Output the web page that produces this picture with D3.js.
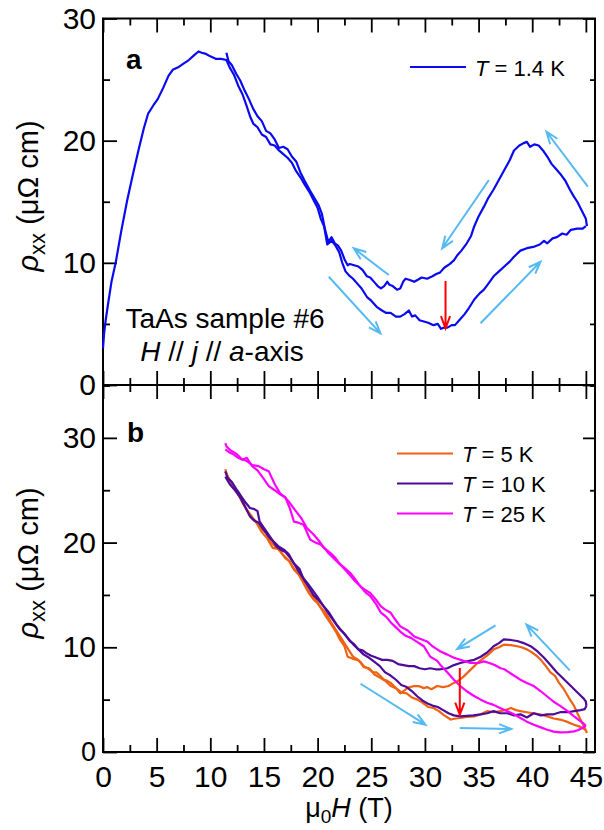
<!DOCTYPE html>
<html>
<head>
<meta charset="utf-8">
<script src="https://cdn.jsdelivr.net/npm/d3@7"></script>
<style>
  body { margin: 0; background: #fff; }
  svg { font-family: Arial, "Liberation Sans", sans-serif; }
</style>
</head>
<body>
<div id="plot"></div>
<script>
// ---- data: [mu0H (T), rho_xx (uOhm cm)] ----

// panel a, T = 1.4 K
var up14 = [[0.0,3.0],[0.1,4.2],[0.25,5.3],[0.5,6.8],[0.8,8.5],[1.2,10.1],[1.7,12.6],[2.25,15.1],[2.8,17.3],[3.3,19.2],
  [3.8,21.0],[4.2,22.2],[4.7,22.9],[5.1,23.4],[5.6,24.3],[6.1,25.3],[6.5,25.8],[7.0,26.0],[7.5,26.3],[8.0,26.6],
  [8.5,27.0],[8.9,27.3],[9.2,27.2],[9.6,27.1],[10.0,26.9],[10.5,26.7],[11.0,26.7],[11.5,26.6],[11.8,26.0],[12.2,25.4],
  [12.6,24.5],[13.0,23.8],[13.4,22.8],[13.7,22.0],[14.0,21.4],[14.4,21.1],[14.8,20.5],[15.2,20.3],[15.6,19.7],[16.0,19.6],
  [16.4,19.2],[16.8,18.9],[17.2,18.6],[17.6,18.2],[18.0,17.5],[18.4,17.0],[18.8,16.4],[19.3,15.7],[19.7,15.0],[20.0,14.5],
  [20.3,13.6],[20.6,13.0],[20.9,11.5],[21.3,11.8],[21.6,11.5],[22.0,10.9],[22.3,10.0],[22.6,9.3],[22.9,9.0],[23.3,8.7],
  [23.7,8.3],[24.1,7.9],[24.6,7.2],[25.0,6.9],[25.5,6.4],[26.0,6.1],[26.4,5.9],[26.8,5.9],[27.3,5.6],[27.7,5.6],
  [28.1,5.8],[28.5,6.1],[28.8,5.6],[29.1,5.7],[29.5,5.3],[29.9,5.2],[30.3,5.1],[30.8,4.9],[31.2,5.0],[31.5,4.6],
  [31.8,4.7],[32.1,4.7],[32.5,4.9],[32.8,4.9],[33.3,5.4],[33.7,5.8],[34.1,6.3],[34.6,7.0],[35.1,7.5],[35.5,7.8],
  [36.0,8.4],[36.4,8.9],[36.9,9.3],[37.4,9.7],[37.9,10.1],[38.3,10.5],[38.9,11.0],[39.5,11.2],[40.1,11.3],[40.7,11.5],
  [41.1,11.8],[41.4,11.6],[41.9,12.0],[42.3,12.1],[42.8,12.4],[43.2,12.3],[43.6,12.7],[44.2,12.8],[44.7,12.8],[45.0,13.0]];

var down14 = [[45.1,13.0],[45.0,13.6],[44.6,14.3],[44.2,15.0],[43.9,15.4],[43.5,16.0],[43.1,16.7],[42.6,17.3],[42.2,17.7],[41.8,18.1],
  [41.4,18.7],[41.0,19.2],[40.6,19.6],[40.2,19.7],[39.8,19.5],[39.5,19.9],[39.2,19.8],[38.8,19.6],[38.3,19.2],[37.9,18.4],
  [37.4,17.6],[36.9,16.8],[36.4,16.0],[35.9,15.3],[35.5,14.6],[35.0,13.8],[34.6,13.0],[34.3,12.2],[33.9,11.6],[33.4,11.0],
  [33.0,10.6],[32.7,10.2],[32.3,9.9],[31.8,9.6],[31.4,9.2],[31.1,9.1],[30.7,8.9],[30.2,8.7],[29.7,8.8],[29.3,8.6],
  [29.0,8.45],[28.6,8.6],[28.2,8.7],[28.0,8.5],[27.7,7.9],[27.4,7.8],[27.0,8.1],[26.7,8.2],[26.5,8.45],[26.2,8.1],
  [25.9,7.9],[25.6,8.1],[25.3,8.4],[24.9,8.8],[24.6,8.9],[24.2,9.4],[23.8,9.7],[23.4,9.8],[23.0,9.9],[22.8,9.8],
  [22.5,10.3],[22.2,11.0],[21.9,11.4],[21.6,11.6],[21.3,12.1],[21.0,11.7],[20.7,12.7],[20.4,14.0],[20.1,14.7],[19.7,15.3],
  [19.3,15.9],[18.8,16.7],[18.4,17.4],[18.0,18.3],[17.6,18.7],[17.2,19.3],[16.8,19.5],[16.4,19.4],[16.0,20.1],[15.6,20.6],
  [15.2,20.8],[14.8,21.6],[14.4,22.0],[14.0,22.6],[13.6,23.4],[13.2,24.1],[12.8,24.9],[12.4,25.5],[12.0,26.2],[11.7,26.5],
  [11.5,27.2]];

// panel b, T = 5 K
var up5 = [[11.4,26.8],[11.8,26.0],[12.3,25.1],[12.8,24.4],[13.3,23.3],[13.8,22.4],[14.3,21.9],[14.8,21.0],[15.3,20.4],[15.8,19.5],
  [16.3,19.4],[16.8,18.8],[17.3,18.3],[17.8,17.4],[18.3,16.9],[18.8,16.0],[19.3,15.1],[19.8,14.6],[20.3,13.8],[20.8,13.2],
  [21.3,12.3],[21.8,11.5],[22.3,10.7],[22.8,9.9],[23.3,9.1],[23.8,8.8],[24.3,8.1],[24.8,8.0],[25.3,7.4],[25.8,7.1],
  [26.3,6.8],[26.8,6.3],[27.3,6.1],[27.8,5.7],[28.3,5.6],[28.8,5.2],[29.3,5.0],[29.8,4.7],[30.3,4.3],[30.8,4.2],
  [31.3,3.9],[31.8,3.5],[32.4,3.1],[32.9,3.2],[33.3,3.25],[33.9,3.35],[34.6,3.4],[35.2,3.6],[35.8,3.9],[36.4,3.8],
  [37.0,3.9],[37.5,4.0],[38.0,4.2],[38.5,4.0],[38.9,3.9],[39.5,3.8],[40.1,3.7],[40.7,3.6],[41.4,3.4],[42.0,3.2],
  [42.6,3.1],[43.2,2.9],[43.9,2.6],[44.5,2.4],[45.0,2.1]];

var down5 = [[45.1,1.8],[44.9,2.3],[44.65,2.8],[44.3,3.5],[43.9,4.4],[43.4,5.2],[42.95,6.0],[42.5,6.6],[42.1,7.3],[41.7,7.6],
  [41.2,8.3],[40.8,8.8],[40.5,9.1],[40.0,9.5],[39.5,9.8],[39.0,10.0],[38.6,10.1],[38.0,10.2],[37.35,10.25],[36.9,10.0],
  [36.4,9.8],[35.9,9.3],[35.5,9.0],[35.0,8.6],[34.6,8.2],[34.1,7.7],[33.6,7.2],[33.1,6.8],[32.7,6.6],[32.2,6.3],
  [31.7,6.2],[31.15,6.3],[30.6,6.0],[30.2,6.2],[29.9,6.1],[29.4,6.3],[29.0,6.3],[28.6,6.2],[28.35,6.1],[28.0,5.8],
  [27.7,5.6],[27.3,6.1],[26.8,6.6],[26.5,6.8],[26.2,6.9],[25.8,7.3],[25.5,7.6],[25.2,7.6],[24.8,7.9],[24.3,8.2],
  [24.0,8.6],[23.7,8.8],[23.3,8.9],[22.8,9.1],[22.5,10.1],[22.1,10.7],[21.7,11.5],[21.2,12.3],[20.8,12.9],[20.4,13.6],
  [20.0,14.2],[19.6,14.6],[19.3,15.0],[19.0,15.5],[18.6,16.3],[18.2,17.0],[17.8,17.5],[17.4,18.2],[17.0,18.5],[16.5,19.2],
  [16.0,19.7],[15.6,20.1],[15.2,20.9],[14.8,21.3],[14.4,21.8],[14.0,22.3],[13.5,23.0],[13.0,23.8],[12.5,24.8],[12.0,25.6],
  [11.6,26.3],[11.4,27.0]];

// panel b, T = 10 K
var up10 = [[11.4,26.3],[11.8,25.6],[12.3,25.0],[12.8,24.3],[13.3,23.3],[13.7,22.5],[14.1,22.1],[14.5,21.9],[15.0,21.2],[15.5,20.5],
  [15.9,20.1],[16.4,19.6],[16.9,19.3],[17.3,18.9],[17.8,18.0],[18.3,17.5],[18.7,16.5],[19.2,15.7],[19.6,15.0],[20.0,14.6],
  [20.5,14.0],[20.9,13.4],[21.3,12.8],[21.8,12.1],[22.3,11.5],[22.8,10.9],[23.3,10.3],[23.8,9.8],[24.3,9.3],[24.8,9.0],
  [25.3,8.6],[25.8,8.2],[26.3,7.6],[26.8,7.3],[27.3,6.9],[27.8,6.4],[28.3,6.2],[28.8,5.8],[29.3,5.3],[29.8,4.9],
  [30.3,4.6],[30.8,4.4],[31.2,4.3],[31.7,4.0],[32.2,3.7],[32.7,3.5],[33.3,3.4],[33.9,3.45],[34.5,3.5],[35.2,3.6],
  [35.8,3.7],[36.4,3.9],[37.0,3.7],[37.7,3.7],[38.3,3.5],[38.9,3.6],[39.5,3.3],[40.15,3.7],[40.8,3.5],[41.4,3.6],
  [42.0,3.6],[42.6,3.8],[43.3,3.8],[43.9,3.9],[44.5,4.0],[44.9,4.1],[45.05,4.4]];

var down10 = [[45.05,4.4],[45.0,4.8],[44.8,5.1],[44.5,5.4],[44.0,5.9],[43.6,6.3],[43.0,6.9],[42.6,7.3],[42.3,7.6],[41.7,8.3],
  [41.1,9.0],[40.5,9.6],[39.85,10.1],[39.2,10.4],[38.6,10.6],[38.0,10.7],[37.35,10.75],[36.9,10.4],[36.4,10.1],[35.8,9.5],
  [35.2,9.1],[34.6,8.8],[33.9,8.65],[33.3,8.5],[32.7,8.3],[32.1,8.0],[31.45,7.9],[31.0,7.9],[30.5,8.0],[30.0,7.9],
  [29.5,8.0],[29.0,8.2],[28.5,8.2],[28.0,8.3],[27.5,8.4],[27.0,8.7],[26.5,8.8],[26.0,8.8],[25.5,9.0],[25.0,9.2],
  [24.6,9.4],[24.2,9.7],[23.8,9.8],[23.4,10.3],[23.0,10.6],[22.5,11.3],[22.0,11.8],[21.5,12.6],[21.0,13.4],[20.5,14.0],
  [20.0,14.8],[19.5,15.5],[19.0,16.2],[18.6,16.7],[18.2,17.3],[17.8,18.0],[17.4,18.6],[17.0,19.1],[16.6,19.3],[16.2,19.6],
  [15.8,20.2],[15.4,20.8],[15.0,21.4],[14.6,22.0],[14.4,23.0],[14.1,23.2],[13.7,23.3],[13.3,23.8],[12.9,24.4],[12.5,25.0],
  [12.0,25.8],[11.6,26.2],[11.4,26.8]];

// panel b, T = 25 K
var up25 = [[11.4,28.9],[11.8,28.6],[12.2,28.4],[12.6,28.1],[13.0,27.9],[13.4,28.1],[13.9,27.3],[14.4,26.9],[14.9,26.2],[15.45,25.4],
  [16.0,25.0],[16.5,24.6],[17.0,24.3],[17.4,23.3],[17.8,22.0],[18.2,21.9],[18.7,21.7],[19.0,21.0],[19.3,20.3],[19.8,20.0],
  [20.3,19.8],[20.7,19.4],[21.0,19.0],[21.4,18.6],[21.8,18.2],[22.4,17.6],[23.0,16.9],[23.5,16.3],[24.0,15.8],[24.5,15.2],
  [24.9,14.9],[25.4,14.2],[25.9,13.3],[26.4,12.9],[26.8,12.4],[27.3,11.9],[27.7,11.5],[28.2,11.1],[28.7,10.9],[29.3,10.5],
  [29.9,10.1],[30.2,9.6],[30.5,9.1],[31.15,8.7],[31.45,8.3],[32.1,7.6],[32.7,6.9],[33.3,6.3],[33.9,5.8],[34.5,5.4],
  [35.2,5.0],[35.8,4.7],[36.4,4.5],[37.0,4.2],[37.7,3.9],[38.3,3.6],[38.9,3.25],[39.5,2.9],[40.15,2.6],[40.8,2.35],
  [41.4,2.13],[42.0,1.95],[42.6,1.87],[43.3,1.9],[43.9,1.97],[44.3,2.1],[44.65,2.3],[45.0,2.5]];

var down25 = [[45.0,2.5],[44.8,2.7],[44.3,3.1],[43.9,3.4],[43.3,3.9],[42.6,4.4],[42.0,4.8],[41.4,5.3],[40.8,5.8],[40.15,6.3],
  [39.5,6.6],[38.9,6.9],[38.6,7.1],[38.0,7.5],[37.4,7.9],[37.05,8.0],[36.5,8.3],[36.0,8.5],[35.5,8.65],[35.0,8.5],
  [34.6,8.5],[34.25,8.5],[33.6,8.7],[33.0,8.9],[32.7,9.0],[32.1,9.3],[31.45,9.6],[31.15,9.8],[30.7,10.1],[30.2,10.56],
  [29.6,10.8],[29.0,11.04],[28.4,11.6],[27.7,12.0],[27.2,12.7],[26.8,13.3],[26.3,13.6],[25.9,13.9],[25.4,14.6],[24.9,15.2],
  [24.4,15.5],[24.0,15.8],[23.5,16.5],[23.05,17.1],[22.5,17.6],[22.0,18.05],[21.6,18.6],[21.2,19.0],[20.6,19.5],[20.1,20.2],
  [19.6,20.8],[19.0,21.4],[18.5,22.3],[17.9,23.1],[17.4,23.8],[16.9,24.4],[16.5,24.7],[16.0,25.6],[15.45,26.8],[15.0,27.0],
  [14.5,27.3],[13.9,27.4],[13.4,27.8],[12.9,28.0],[12.4,28.5],[11.9,28.8],[11.5,29.2],[11.4,29.5]];

// sweep-direction arrows [[H1, rho1], [H2, rho2]] (head at the second point)
var arrowsA = [[[21.04,8.86],[25.86,4.23]], [[26.63,9.0],[23.37,11.19]], [[35.96,16.78],[31.61,11.19]],
               [[45.18,16.23],[41.33,20.73]], [[35.18,5.05],[40.77,10.09]]];
var redA = [[31.92,8.51],[31.92,4.64]];
var arrowsB = [[[43.5,7.79],[39.47,12.16]], [[36.58,12.09],[33.01,9.84]], [[24.0,6.52],[30.05,2.61]],
               [[33.25,2.29],[38.04,2.2]]];
var redB = [[33.25,8.02],[33.25,3.56]];

// ticks
var xMajor = [0, 5, 10, 15, 20, 25, 30, 35, 40, 45];
var xMinor = [2.5, 7.5, 12.5, 17.5, 22.5, 27.5, 32.5, 37.5, 42.5];
var yMajorA = [0, 10, 20, 30], yMinorA = [5, 15, 25];
var yMajorB = [0, 10, 20, 30], yMinorB = [5, 15, 25, 35];

var legendB = [{t: '5 K', c: '#ee6212'}, {t: '10 K', c: '#4d0c98'}, {t: '25 K', c: '#ff00ff'}];

// ---- drawing ----
var width = 604, height = 830;
var svg = d3.select('#plot').append('svg').attr('width', width).attr('height', height);

var x = d3.scaleLinear().domain([0, 45.85]).range([103, 595]);
var yA = d3.scaleLinear().domain([0, 30]).range([385, 18.5]);
var yB = d3.scaleLinear().domain([0, 35.05]).range([752, 385]);

var arrowBlue = '#55b9f2';

function axes(y, yMajor, yMinor, xLabels) {
    var y0 = y.range()[0], y1 = y.range()[1];
    var x0 = x.range()[0], x1 = x.range()[1];
    var g = svg.append('g');
    var sets = [[14, xMajor, yMajor, true], [7, xMinor, yMinor, false]];
    sets.forEach(function(s) {
        var len = s[0];
        g.append('g').attr('transform', 'translate(0,' + y0 + ')')
            .call(d3.axisBottom(x).tickValues(s[1]).tickSize(-len).tickPadding(14)
                .tickFormat(xLabels && s[3] ? d3.format('d') : ''));
        g.append('g').attr('transform', 'translate(0,' + y1 + ')')
            .call(d3.axisTop(x).tickValues(s[1]).tickSize(-len).tickFormat(''));
        g.append('g').attr('transform', 'translate(' + x0 + ',0)')
            .call(d3.axisLeft(y).tickValues(s[2]).tickSize(-len).tickPadding(7)
                .tickFormat(s[3] ? d3.format('d') : ''));
        g.append('g').attr('transform', 'translate(' + x1 + ',0)')
            .call(d3.axisRight(y).tickValues(s[2]).tickSize(-(len - 2)).tickFormat(''));
    });
    g.selectAll('.domain').remove();
    g.selectAll('.tick line').attr('stroke', '#000').attr('stroke-width', 1.8);
    g.selectAll('text').attr('fill', '#000').attr('font-family', 'Arial, "Liberation Sans", sans-serif');
    g.selectAll('g').attr('font-size', 30);
    g.selectAll('g').filter(function() { return d3.select(this).attr('transform').indexOf('translate(0,752') === 0; })
        .attr('font-size', 27);
    svg.append('rect').attr('x', x0).attr('y', y1).attr('width', x1 - x0).attr('height', y0 - y1)
        .attr('fill', 'none').attr('stroke', '#000').attr('stroke-width', 2);
}

function curve(y, data, color) {
    var line = d3.line().x(function(d) { return x(d[0]); }).y(function(d) { return y(d[1]); });
    svg.append('path').datum(data).attr('d', line)
        .attr('fill', 'none').attr('stroke', color).attr('stroke-width', 2.2)
        .attr('stroke-linejoin', 'round');
}

function arrow(y, a, color) {
    var X1 = x(a[0][0]), Y1 = y(a[0][1]), X2 = x(a[1][0]), Y2 = y(a[1][1]);
    var ang = Math.atan2(Y2 - Y1, X2 - X1), L = 13, spread = 0.36;
    var b1 = [X2 - L * Math.cos(ang - spread), Y2 - L * Math.sin(ang - spread)];
    var b2 = [X2 - L * Math.cos(ang + spread), Y2 - L * Math.sin(ang + spread)];
    svg.append('path')
        .attr('d', 'M' + X1 + ',' + Y1 + 'L' + X2 + ',' + Y2 +
                   'M' + b1 + 'L' + X2 + ',' + Y2 + 'L' + b2)
        .attr('fill', 'none').attr('stroke', color).attr('stroke-width', 2);
}

function yLabel(cy) {
    var t = svg.append('text').attr('transform', 'translate(38,' + cy + ') rotate(-90)')
        .attr('text-anchor', 'middle').attr('font-size', 29);
    t.append('tspan').attr('font-style', 'italic').text('\u03c1');
    t.append('tspan').attr('font-size', 22).attr('dy', 7).text('xx');
    t.append('tspan').attr('dy', -7).text(' (\u03bc\u03a9 cm)');
}

// panel a
axes(yA, yMajorA, yMinorA, false);
curve(yA, up14, '#0a0af0');
curve(yA, down14, '#0a0af0');
arrowsA.forEach(function(a) { arrow(yA, a, arrowBlue); });
arrow(yA, redA, '#ff0000');

// panel b
axes(yB, yMajorB, yMinorB, true);
curve(yB, up5, legendB[0].c);
curve(yB, down5, legendB[0].c);
curve(yB, up10, legendB[1].c);
curve(yB, down10, legendB[1].c);
curve(yB, up25, legendB[2].c);
curve(yB, down25, legendB[2].c);
arrowsB.forEach(function(a) { arrow(yB, a, arrowBlue); });
arrow(yB, redB, '#ff0000');

// labels
yLabel(196);
yLabel(563);

svg.append('text').attr('x', 126).attr('y', 69).attr('font-size', 28).attr('font-weight', 'bold').text('a');
svg.append('text').attr('x', 127).attr('y', 442).attr('font-size', 28).attr('font-weight', 'bold').text('b');

var xl = svg.append('text').attr('x', 349).attr('y', 817).attr('text-anchor', 'middle').attr('font-size', 27);
xl.append('tspan').text('\u03bc');
xl.append('tspan').attr('font-size', 19).attr('dy', 6).text('0');
xl.append('tspan').attr('dy', -6).attr('font-style', 'italic').text('H');
xl.append('tspan').text(' (T)');

svg.append('text').attr('x', 225).attr('y', 328).attr('text-anchor', 'middle').attr('font-size', 28)
    .text('TaAs sample #6');
var hl = svg.append('text').attr('x', 222).attr('y', 361).attr('text-anchor', 'middle').attr('font-size', 28);
hl.append('tspan').attr('font-style', 'italic').text('H');
hl.append('tspan').text(' // ');
hl.append('tspan').attr('font-style', 'italic').text('j');
hl.append('tspan').text(' // ');
hl.append('tspan').attr('font-style', 'italic').text('a');
hl.append('tspan').text('-axis');

// legends
function legendRow(lx, ly, color, label) {
    svg.append('line').attr('x1', lx).attr('x2', lx + 56).attr('y1', ly).attr('y2', ly)
        .attr('stroke', color).attr('stroke-width', 2.2);
    var t = svg.append('text').attr('x', lx + 65).attr('y', ly + 8.5).attr('font-size', 22);
    t.append('tspan').attr('font-style', 'italic').text('T');
    t.append('tspan').text(' = ' + label);
}
legendRow(410, 67, '#0a0af0', '1.4 K');
legendB.forEach(function(d, i) { legendRow(397, 453.5 + i * 30, d.c, d.t); });
</script>
</body>
</html>
